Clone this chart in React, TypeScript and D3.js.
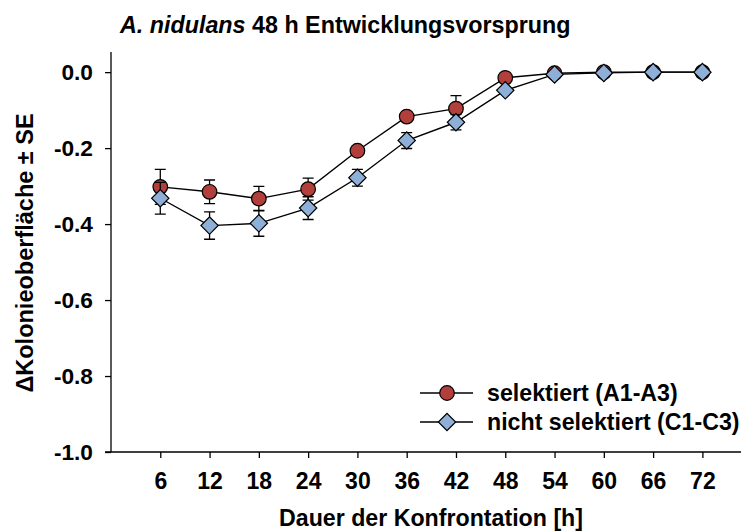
import React, { useEffect, useRef } from "react";
import * as d3 from "d3";

const hours = [6, 12, 18, 24, 30, 36, 42, 48, 54, 60, 66, 72];
const selMean = [-0.302, -0.315, -0.333, -0.308, -0.207, -0.117, -0.096, -0.015, -0.003, 0, 0, 0];
const selSE = [0.046, 0.031, 0.032, 0.029, 0.012, 0.01, 0.034, 0.008, 0.004, 0.002, 0.002, 0.002];
const nonMean = [-0.332, -0.404, -0.398, -0.358, -0.278, -0.18, -0.132, -0.048, -0.006, -0.002, 0, 0];
const nonSE = [0.042, 0.036, 0.034, 0.03, 0.022, 0.021, 0.02, 0.008, 0.004, 0.002, 0.002, 0.002];
const yTicks = [0, -0.2, -0.4, -0.6, -0.8, -1.0];
const seriesNames = ["selektiert (A1-A3)", "nicht selektiert (C1-C3)"];
const seriesColors = ["#B23F3B", "#8EAFD8"];

const W = 741;
const H = 531;
const FONT = "'Liberation Sans', Arial, Helvetica, sans-serif";

export default function App() {
  const ref = useRef<SVGSVGElement | null>(null);

  useEffect(() => {
    const svg = d3.select(ref.current);
    svg.selectAll("*").remove();

    const x = d3.scaleLinear().domain([0, 76.7]).range([111, 741]);
    const y = d3.scaleLinear().domain([-1, 0.053]).range([452, 52]);

    // axes
    const yAxis = d3
      .axisLeft(y)
      .tickValues(yTicks)
      .tickSize(6)
      .tickPadding(12)
      .tickFormat((d: any) => (+d).toFixed(1));
    const gy = svg.append("g").attr("transform", "translate(111,0)").call(yAxis as any);
    gy.select(".domain").attr("d", `M0,${y(0.053)}V${y(-1)}`).attr("stroke", "#000").attr("stroke-width", 1.3);
    gy.selectAll(".tick line").attr("stroke", "#000").attr("stroke-width", 1.3);
    gy.selectAll(".tick text")
      .attr("font-family", FONT)
      .attr("font-size", 22.7)
      .attr("font-weight", "bold")
      .attr("fill", "#000");
    gy.attr("font-family", null).attr("font-size", null);

    const xAxis = d3.axisBottom(x).tickValues(hours).tickSize(6).tickPadding(15).tickFormat((d: any) => String(d));
    const gx = svg.append("g").attr("transform", "translate(0,452)").call(xAxis as any);
    gx.select(".domain").attr("d", `M105,0H741`).attr("stroke", "#000").attr("stroke-width", 1.3);
    gx.selectAll(".tick line").attr("stroke", "#000").attr("stroke-width", 1.3);
    gx.selectAll(".tick text")
      .attr("font-family", FONT)
      .attr("font-size", 23)
      .attr("font-weight", "bold")
      .attr("fill", "#000");
    gx.attr("font-family", null).attr("font-size", null);

    // titles
    const title = svg
      .append("text")
      .attr("x", 120)
      .attr("y", 33)
      .attr("font-family", FONT)
      .attr("font-size", 23.3)
      .attr("font-weight", "bold")
      .attr("fill", "#000");
    title.append("tspan").attr("font-style", "italic").text("A. nidulans");
    title.append("tspan").text(" 48 h Entwicklungsvorsprung");

    svg
      .append("text")
      .attr("x", 431)
      .attr("y", 526)
      .attr("text-anchor", "middle")
      .attr("font-family", FONT)
      .attr("font-size", 23.2)
      .attr("font-weight", "bold")
      .attr("fill", "#000")
      .text("Dauer der Konfrontation [h]");

    svg
      .append("text")
      .attr("transform", "translate(33,253) rotate(-90)")
      .attr("text-anchor", "middle")
      .attr("font-family", FONT)
      .attr("font-size", 23.5)
      .attr("font-weight", "bold")
      .attr("fill", "#000")
      .text("\u0394Kolonieoberfl\u00e4che \u00b1 SE");

    const means = [selMean, nonMean];
    const ses = [selSE, nonSE];
    const diamond = d3.symbol().type(d3.symbolSquare).size(150);

    means.forEach((m, si) => {
      const data = hours.map((h, i) => ({ h, v: m[i], se: ses[si][i] }));
      const g = svg.append("g");
      // error bars
      const eb = g.append("g").attr("stroke", "#000").attr("stroke-width", 1.3).attr("fill", "none");
      data.forEach((d) => {
        const cx = x(d.h);
        const y1 = y(d.v + d.se);
        const y2 = y(d.v - d.se);
        eb.append("path").attr("d", `M${cx},${y1}V${y2}M${cx - 5.5},${y1}H${cx + 5.5}M${cx - 5.5},${y2}H${cx + 5.5}`);
      });
      // line
      const line = d3
        .line<{ h: number; v: number }>()
        .x((d) => x(d.h))
        .y((d) => y(d.v));
      g.append("path").datum(data).attr("d", line as any).attr("fill", "none").attr("stroke", "#000").attr("stroke-width", 1.4);
      // markers
      if (si === 0) {
        g.selectAll("circle.m")
          .data(data)
          .enter()
          .append("circle")
          .attr("cx", (d) => x(d.h))
          .attr("cy", (d) => y(d.v))
          .attr("r", 7.3)
          .attr("fill", seriesColors[0])
          .attr("stroke", "#000")
          .attr("stroke-width", 1.2);
      } else {
        g.selectAll("path.m")
          .data(data)
          .enter()
          .append("path")
          .attr("d", diamond as any)
          .attr("transform", (d) => `translate(${x(d.h)},${y(d.v)}) rotate(45)`)
          .attr("fill", seriesColors[1])
          .attr("stroke", "#000")
          .attr("stroke-width", 1.2);
      }
    });

    // legend
    const legendRows = [393, 422];
    seriesNames.forEach((name, i) => {
      const ly = legendRows[i];
      const lg = svg.append("g");
      lg.append("path").attr("d", `M420,${ly}H473`).attr("stroke", "#000").attr("stroke-width", 1.4);
      if (i === 0) {
        lg.append("circle").attr("cx", 447).attr("cy", ly).attr("r", 7.3).attr("fill", seriesColors[0]).attr("stroke", "#000").attr("stroke-width", 1.2);
      } else {
        lg.append("path").attr("d", diamond as any).attr("transform", `translate(447,${ly}) rotate(45)`).attr("fill", seriesColors[1]).attr("stroke", "#000").attr("stroke-width", 1.2);
      }
      lg.append("text")
        .attr("x", 487)
        .attr("y", ly + 8)
        .attr("font-family", FONT)
        .attr("font-size", 23.2)
        .attr("font-weight", "bold")
        .attr("fill", "#000")
        .text(name);
    });
  }, []);

  return (
    <svg
      ref={ref}
      width={W}
      height={H}
      style={{ position: "absolute", left: 0, top: 0, background: "#fff" }}
    />
  );
}
